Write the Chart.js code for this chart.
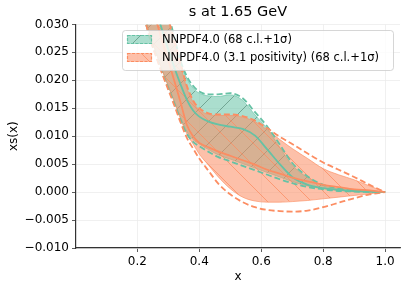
<!DOCTYPE html>
<html>
<head>
<meta charset="UTF-8">
<title>s at 1.65 GeV</title>
<script src="https://cdn.jsdelivr.net/npm/chart.js"></script>
<style>
  body { margin: 0; background: #fff; }
</style>
</head>
<body>
<canvas id="pdfChart" width="407" height="291"></canvas>
<script>
// x grid shared by all curves
const xs = [0.20, 0.22, 0.24, 0.26, 0.28, 0.30, 0.32, 0.34, 0.36, 0.38, 0.40, 0.43, 0.46, 0.50, 0.54, 0.58, 0.62, 0.66, 0.70, 0.75, 0.80, 0.85, 0.90, 0.95, 1.00];

// NNPDF4.0 : 68 c.l. band, 1 sigma band, central value
const greenLo68 = [0.0370, 0.0325, 0.0283, 0.0250, 0.0219, 0.0190, 0.0162, 0.0133, 0.0108, 0.0094, 0.0086, 0.0076, 0.0067, 0.0059, 0.0051, 0.0043, 0.0035, 0.0027, 0.0019, 0.0011, 0.0006, 0.0003, 0.0001, 0.0000, 0.0];
const greenHi68 = [0.0520, 0.0470, 0.0420, 0.0380, 0.0345, 0.0312, 0.0270, 0.0230, 0.0203, 0.0186, 0.0177, 0.0172, 0.0171, 0.0174, 0.0164, 0.0138, 0.0113, 0.0080, 0.0048, 0.0026, 0.0012, 0.0006, 0.0003, 0.0001, 0.0];
const greenLo1s = [0.0362, 0.0318, 0.0277, 0.0245, 0.0214, 0.0186, 0.0158, 0.0129, 0.0104, 0.0090, 0.0082, 0.0072, 0.0063, 0.0055, 0.0047, 0.0039, 0.0031, 0.0023, 0.0016, 0.0009, 0.0005, 0.0002, 0.0001, 0.0, 0.0];
const greenHi1s = [0.0530, 0.0480, 0.0430, 0.0390, 0.0352, 0.0318, 0.0276, 0.0234, 0.0207, 0.0190, 0.0180, 0.0175, 0.0175, 0.0177, 0.0168, 0.0143, 0.0117, 0.0085, 0.0052, 0.0028, 0.0013, 0.0007, 0.0003, 0.0001, 0.0];
const greenMid = [0.0460, 0.0410, 0.0360, 0.0325, 0.0290, 0.0255, 0.0222, 0.0192, 0.0165, 0.0146, 0.0135, 0.0126, 0.0121, 0.0117, 0.0113, 0.0101, 0.0076, 0.0050, 0.0027, 0.0013, 0.0007, 0.0004, 0.0002, 0.0001, 0.0];

// NNPDF4.0 (3.1 positivity)
const orangeLo68 = [0.0370, 0.0325, 0.0283, 0.0250, 0.0218, 0.0189, 0.0160, 0.0130, 0.0104, 0.0086, 0.0068, 0.0048, 0.0028, 0.0006, -0.0009, -0.0016, -0.0018, -0.0018, -0.0017, -0.0015, -0.0012, -0.0009, -0.0006, -0.0003, 0.0];
const orangeHi68 = [0.0510, 0.0460, 0.0410, 0.0370, 0.0335, 0.0305, 0.0265, 0.0225, 0.0186, 0.0161, 0.0147, 0.0139, 0.0137, 0.0137, 0.0134, 0.0126, 0.0111, 0.0094, 0.0078, 0.0060, 0.0042, 0.0031, 0.0022, 0.0011, 0.0];
const orangeLo1s = [0.0362, 0.0318, 0.0276, 0.0243, 0.0212, 0.0183, 0.0154, 0.0124, 0.0097, 0.0078, 0.0060, 0.0038, 0.0016, -0.0004, -0.0018, -0.0027, -0.0032, -0.0034, -0.0035, -0.0033, -0.0027, -0.0019, -0.0011, -0.0004, 0.0];
const orangeHi1s = [0.0520, 0.0470, 0.0420, 0.0380, 0.0340, 0.0310, 0.0270, 0.0229, 0.0190, 0.0164, 0.0150, 0.0141, 0.0139, 0.0139, 0.0136, 0.0128, 0.0114, 0.0099, 0.0086, 0.0069, 0.0053, 0.0040, 0.0027, 0.0013, 0.0];
const orangeMid = [0.0450, 0.0400, 0.0355, 0.0310, 0.0270, 0.0235, 0.0198, 0.0160, 0.0120, 0.0100, 0.0088, 0.0080, 0.0073, 0.0065, 0.0057, 0.0049, 0.0040, 0.0033, 0.0026, 0.0019, 0.0013, 0.0009, 0.0005, 0.0003, 0.0];

const xTicks = [0.2, 0.4, 0.6, 0.8, 1.0];
const yTicks = [-0.010, -0.005, 0.000, 0.005, 0.010, 0.015, 0.020, 0.025, 0.030];
const labels = ['NNPDF4.0 (68 c.l.+1σ)', 'NNPDF4.0 (3.1 positivity) (68 c.l.+1σ)'];

const GREEN = '#66c2a5';
const ORANGE = '#fc8d62';
const FONT = "'DejaVu Sans', sans-serif";

// hatched fill like matplotlib hatch='/' or '\\'
function makeHatch(fill, line, dir) {
    const s = 22;
    const c = document.createElement('canvas');
    c.width = s; c.height = s;
    const g = c.getContext('2d');
    g.fillStyle = fill;
    g.fillRect(0, 0, s, s);
    g.strokeStyle = line;
    g.lineWidth = 0.8;
    g.beginPath();
    if (dir === '/') {
        g.moveTo(-2, s + 2); g.lineTo(s + 2, -2);
    } else {
        g.moveTo(-2, -2); g.lineTo(s + 2, s + 2);
    }
    g.stroke();
    return g.createPattern(c, 'repeat');
}

const greenHatch = makeHatch('rgba(102,194,165,0.55)', 'rgba(70,120,100,0.7)', '/');
const orangeHatch = makeHatch('rgba(252,141,98,0.55)', 'rgba(252,141,98,0.95)', '\\');

function pts(ys) {
    return xs.map((x, i) => ({ x: x, y: ys[i] }));
}

function curve(ys, color, width, dash, order, extra) {
    return Object.assign({
        data: pts(ys),
        borderColor: color,
        borderWidth: width,
        borderDash: dash,
        pointRadius: 0,
        fill: false,
        clip: 0,
        cubicInterpolationMode: 'monotone',
        order: order
    }, extra || {});
}

const datasets = [
    curve(greenLo68, 'rgba(102,194,165,0.8)', 0.8, [], 10),
    curve(greenHi68, 'rgba(102,194,165,0.8)', 0.8, [], 9, { fill: { target: 0 }, backgroundColor: greenHatch }),
    curve(orangeLo68, 'rgba(252,141,98,0.8)', 0.8, [], 8),
    curve(orangeHi68, 'rgba(252,141,98,0.8)', 0.8, [], 7, { fill: { target: 2 }, backgroundColor: orangeHatch }),
    curve(greenLo1s, GREEN, 1.8, [6, 3], 6),
    curve(greenHi1s, GREEN, 1.8, [6, 3], 6),
    curve(orangeLo1s, ORANGE, 1.8, [6, 3], 5),
    curve(orangeHi1s, ORANGE, 1.8, [6, 3], 5),
    curve(greenMid, GREEN, 1.8, [], 2),
    curve(orangeMid, ORANGE, 1.8, [], 1)
];

// legend box drawn inside the axes, top right
const hatchLegend = {
    id: 'hatchLegend',
    afterDraw(chart) {
        const ctx = chart.ctx;
        const bx = 122, by = 30, bw = 271, bh = 40;
        ctx.save();
        ctx.beginPath();
        ctx.roundRect(bx + 0.5, by + 0.5, bw, bh, 3);
        ctx.fillStyle = 'rgba(255,255,255,0.8)';
        ctx.fill();
        ctx.strokeStyle = 'rgba(204,204,204,0.8)';
        ctx.lineWidth = 1;
        ctx.stroke();

        const items = [
            { y: 35, fill: greenHatch, color: GREEN },
            { y: 53, fill: orangeHatch, color: ORANGE }
        ];
        items.forEach((it, i) => {
            ctx.fillStyle = it.fill;
            ctx.fillRect(127, it.y, 25, 9);
            ctx.strokeStyle = it.color;
            ctx.lineWidth = 1.2;
            ctx.setLineDash([3, 1.5]);
            ctx.strokeRect(127.5, it.y + 0.5, 24, 8);
            ctx.setLineDash([]);
            ctx.fillStyle = '#000';
            ctx.font = '11.5px ' + FONT;
            ctx.textBaseline = 'middle';
            ctx.textAlign = 'left';
            ctx.fillText(labels[i], 162, it.y + 5);
        });
        ctx.restore();
    }
};

new Chart(document.getElementById('pdfChart'), {
    type: 'line',
    data: { datasets: datasets },
    options: {
        responsive: false,
        animation: false,
        devicePixelRatio: 1,
        layout: { padding: { left: 0, right: 7, top: 0, bottom: 0 } },
        plugins: {
            legend: { display: false },
            tooltip: { enabled: false },
            title: {
                display: true,
                text: 's at 1.65 GeV',
                color: '#000',
                fullSize: false,
                font: { family: FONT, size: 14.5, weight: 'normal' },
                padding: { top: 4, bottom: 3 }
            }
        },
        scales: {
            x: {
                type: 'linear',
                min: 0.002,
                max: 1.048,
                afterBuildTicks: s => { s.ticks = xTicks.map(v => ({ value: v })); },
                afterFit: s => { s.height = 43; },
                ticks: {
                    callback: v => v.toFixed(1),
                    color: '#000',
                    font: { family: FONT, size: 12 },
                    padding: 3,
                    maxRotation: 0,
                    autoSkip: false
                },
                grid: { color: '#ececec', lineWidth: 0.8, tickColor: '#333', tickLength: 4 },
                border: { color: '#333', width: 1.2 },
                title: { display: true, text: 'x', color: '#000', font: { family: FONT, size: 12 }, padding: { top: 0, bottom: 7 } }
            },
            y: {
                min: -0.010,
                max: 0.030,
                afterBuildTicks: s => { s.ticks = yTicks.map(v => ({ value: v })); },
                afterFit: s => { s.width = 76; },
                ticks: {
                    callback: v => (v < -1e-9 ? '\u2212' : '') + Math.abs(v).toFixed(3),
                    color: '#000',
                    font: { family: FONT, size: 12 },
                    padding: 3
                },
                grid: { color: '#ececec', lineWidth: 0.8, tickColor: '#333', tickLength: 4 },
                border: { color: '#333', width: 1.2 },
                title: { display: true, text: 'xs(x)', color: '#000', font: { family: FONT, size: 12 }, padding: { top: 7, bottom: 0 } }
            }
        }
    },
    plugins: [hatchLegend]
});
</script>
</body>
</html>
